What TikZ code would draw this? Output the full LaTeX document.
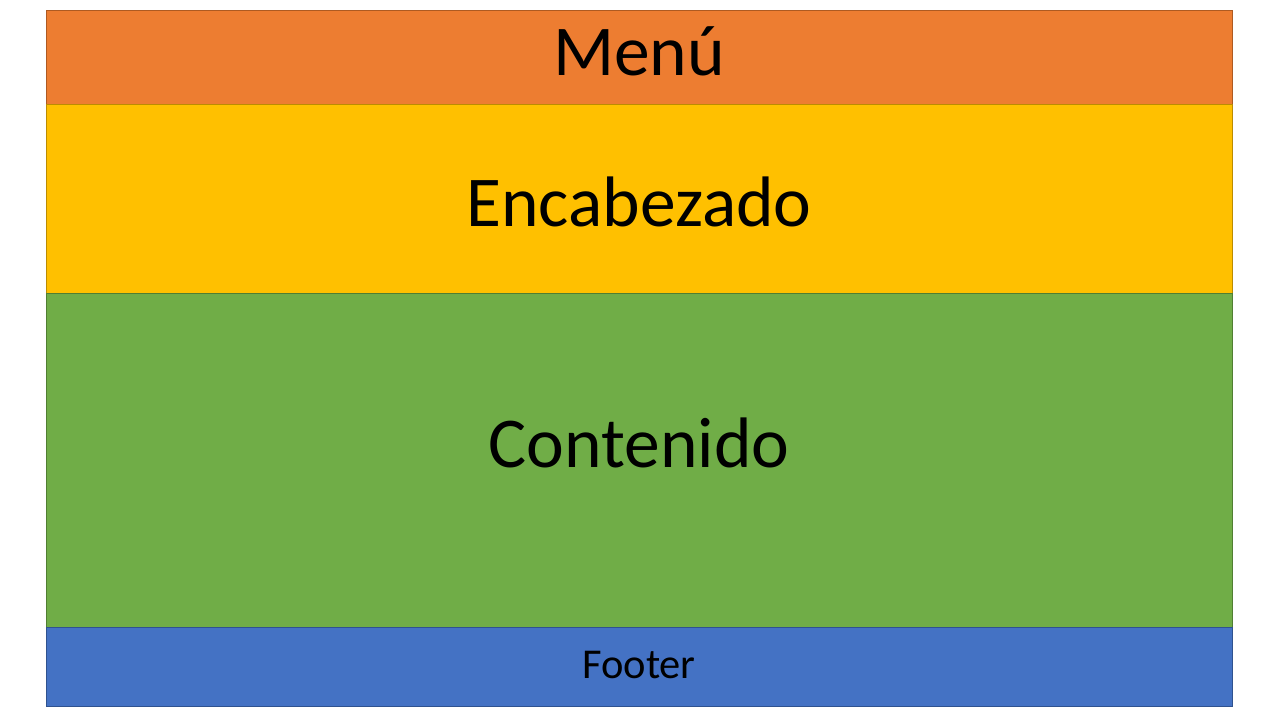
\documentclass[tikz,border=0pt]{standalone}
\usepackage{fontspec}
\setmainfont{Carlito}
\definecolor{cOrange}{HTML}{ED7D31}
\definecolor{cOrangeD}{HTML}{AE5A21}
\definecolor{cYellow}{HTML}{FFC000}
\definecolor{cYellowD}{HTML}{BC8C00}
\definecolor{cGreen}{HTML}{70AD47}
\definecolor{cGreenD}{HTML}{507E32}
\definecolor{cBlue}{HTML}{4472C4}
\definecolor{cBlueD}{HTML}{2F528F}
\tikzset{
  band/.style={line width=1pt},
  lbl/.style={inner sep=0pt, text=black, anchor=center},
}
\begin{document}
\begin{tikzpicture}[x=1pt,y=-1pt]
\useasboundingbox (0,0) rectangle (1280,720);
\fill[white] (0,0) rectangle (1280,720);
\draw[band, fill=cOrange, draw=cOrangeD] (46,10) rectangle (1232,104);
\draw[band, fill=cYellow, draw=cYellowD] (46,104) rectangle (1232,293);
\draw[band, fill=cGreen, draw=cGreenD] (46,293) rectangle (1232,627);
\draw[band, fill=cBlue, draw=cBlueD] (46,627) rectangle (1232,706);
\node[lbl, font=\fontsize{71.5}{71.5}\selectfont] (menu) at (639,51) {Menú};
\node[lbl, font=\fontsize{71.5}{71.5}\selectfont] (enc) at (639,202) {Encabezado};
\node[lbl, font=\fontsize{71.5}{71.5}\selectfont] (cont) at (639,443) {Contenido};
\node[lbl, font=\fontsize{42.5}{42.5}\selectfont] (foot) at (639,665) {Footer};
\end{tikzpicture}
\end{document}
